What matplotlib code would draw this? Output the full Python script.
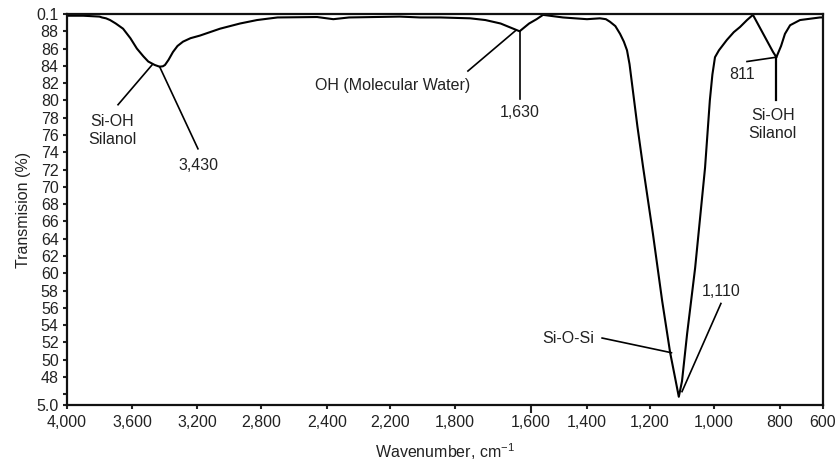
import numpy as np
import matplotlib.pyplot as plt

plt.rcParams['font.family'] = ['Liberation Sans', 'DejaVu Sans']
plt.rcParams['mathtext.fontset'] = 'custom'
plt.rcParams['mathtext.rm'] = 'Liberation Sans'
plt.rcParams['mathtext.it'] = 'Liberation Sans'

# FTIR spectrum of the silica sample
wavenumber = [4000, 3900, 3800, 3785, 3760, 3735, 3700, 3655, 3610, 3570,
              3530, 3500, 3460, 3430, 3410, 3397, 3375, 3348, 3320, 3286,
              3240, 3182, 3056, 2931, 2825, 2700, 2460, 2380, 2330, 2140,
              2015, 1890, 1760, 1720, 1680, 1630, 1605, 1580, 1557, 1486,
              1400, 1359, 1340, 1327, 1310, 1295, 1283, 1273, 1265, 1257,
              1240, 1222, 1191, 1162, 1137, 1120, 1110, 1100, 1084, 1059,
              1028, 1013, 1005, 997, 985, 961, 940, 921, 900, 882,
              821, 811, 795, 777, 753, 707, 614, 600]
transmission = [89.8, 89.8, 89.7, 89.6, 89.5, 89.3, 88.9, 88.3, 87.2, 86.0,
                85.1, 84.5, 84.1, 83.9, 83.95, 84.1, 84.7, 85.6, 86.3, 86.8,
                87.2, 87.5, 88.3, 88.9, 89.3, 89.6, 89.65, 89.4, 89.6, 89.7,
                89.6, 89.6, 89.5, 89.3, 88.9, 88.0, 88.9, 89.4, 89.9, 89.6,
                89.4, 89.5, 89.4, 89.1, 88.6, 87.7, 86.8, 85.8, 84.2, 81.9,
                77.0, 72.3, 64.6, 56.8, 50.8, 47.6, 45.7, 47.5, 53.0, 60.6,
                72.2, 80.0, 83.0, 85.0, 85.8, 87.0, 87.9, 88.5, 89.3, 89.9,
                85.6, 85.0, 86.3, 87.7, 88.7, 89.3, 89.6, 89.6]

# axis ticks as printed by the instrument software (uneven spacing)
x_ticks = [4000, 3600, 3200, 2800, 2400, 2200, 1800, 1600, 1400, 1200, 1000, 800, 600]
x_tick_pos = [0, 65, 130, 194, 260, 323, 388, 464, 520, 583, 647, 713, 756]
y_ticks = [90, 88, 86, 84, 82, 80, 78, 76, 74, 72, 70, 68, 66, 64, 62, 60,
           58, 56, 54, 52, 50, 48, 46, 44.75]
y_labels = ['0.1', '88', '86', '84', '82', '80', '78', '76', '74', '72', '70',
            '68', '66', '64', '62', '60', '58', '56', '54', '52', '50', '48', '', '5.0']

wn_asc = np.array(x_ticks[::-1], dtype=float)
pos_asc = np.array(x_tick_pos[-1] - np.array(x_tick_pos[::-1]), dtype=float)


def forward(x):
    return np.interp(x, wn_asc, pos_asc)


def inverse(p):
    return np.interp(p, pos_asc, wn_asc)


fig = plt.figure(figsize=(8.38, 4.65), dpi=100)
ax = fig.add_axes([67 / 838, 1 - 405 / 465, 756 / 838, 391 / 465])
ax.set_xscale('function', functions=(forward, inverse))

ax.plot(wavenumber, transmission, color='black', lw=1.5)

ax.set_xlim(4000, 600)
ax.set_ylim(44.75, 90)
ax.set_xticks(x_ticks)
ax.set_xticklabels([f'{v:,}' for v in x_ticks])
ax.set_yticks(y_ticks)
ax.set_yticklabels(y_labels)
ax.xaxis.set_minor_locator(plt.NullLocator())
ax.tick_params(direction='out', length=3, width=1.5, labelsize=11.5,
               colors='#222222', pad=3)
ax.tick_params(axis='x', pad=4)
# the 1,600 mark is drawn heavier
ax.xaxis.get_major_ticks()[7].tick1line.set_markersize(6)
for s in ax.spines.values():
    s.set_linewidth(1.6)
    s.set_color('#111111')

ax.set_ylabel('Transmision (%)', fontsize=11.5, color='#222222', labelpad=4)
ax.set_xlabel(r'Wavenumber, cm$^{-1}$', fontsize=11.5, color='#222222', labelpad=8)

# peak labels with leader lines
lc = dict(color='black', lw=1.2)
ax.plot([3686, 3477], [79.5, 84.1], **lc)
ax.text(3723, 76.5, 'Si-OH\nSilanol', ha='center', va='center', fontsize=11.5,
        linespacing=1.25, color='#222222')
ax.plot([3430, 3194], [83.9, 74.4], **lc)
ax.text(3194, 72.5, '3,430', ha='center', va='center', fontsize=11.5, color='#222222')

ax.plot([1766, 1640], [83.4, 88.1], **lc)
ax.text(2182, 81.7, 'OH (Molecular Water)', ha='center', va='center', fontsize=11.5,
        color='#222222')
ax.plot([1630, 1630], [88.0, 80.2], **lc)
ax.text(1630, 78.6, '1,630', ha='center', va='center', fontsize=11.5, color='#222222')

ax.plot([900, 811], [84.5, 85.0], **lc)
ax.text(915, 83.0, '811', ha='center', va='center', fontsize=11.5, color='#222222')
ax.plot([811, 811], [85.0, 80.1], color='black', lw=1.6)
ax.text(822, 77.2, 'Si-OH\nSilanol', ha='center', va='center', fontsize=11.5,
        linespacing=1.25, color='#222222')

ax.plot([979, 1100], [56.5, 46.3], **lc)
ax.text(977, 57.9, '1,110', ha='center', va='center', fontsize=11.5, color='#222222')
ax.plot([1352, 1133], [52.5, 50.8], **lc)
ax.text(1468, 52.4, 'Si-O-Si', ha='center', va='center', fontsize=11.5, color='#222222')

fig.savefig('out.png', dpi=100)
